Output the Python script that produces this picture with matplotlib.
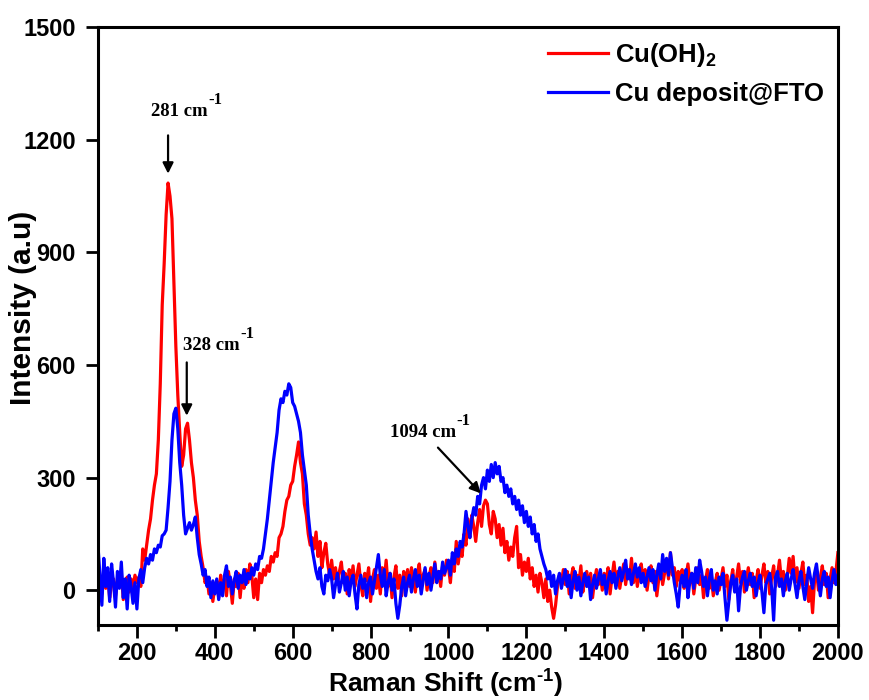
import numpy as np
import matplotlib
matplotlib.use("Agg")
import matplotlib.pyplot as plt
from matplotlib.ticker import MultipleLocator

# Raman shift axis (cm^-1), sampled every 5 cm^-1 from 100 to 2000
shift_start, shift_stop, shift_step = 100, 2000, 5

# Cu(OH)2 spectrum intensities (a.u.)
cu_oh2 = [
    60, 20, -10, 35, 5, 40, -20, 15, 30, -15, 25, 10, 45, -25, 20, 35, -5, 30, 10, 40,
    20, 35, 10, 110, 80, 120, 160, 190, 240, 280, 310, 400, 550, 760, 870, 1000, 1085, 1050, 990, 820,
    650, 520, 420, 330, 360, 430, 445, 400, 340, 300, 240, 200, 130, 90, 60, 20, 35, -10, 20, -30,
    10, 25, -20, 40, 5, 30, -15, 50, 15, -35, 30, 10, 45, -20, 35, 5, 55, 20, 70, 40,
    -20, 30, -25, 45, 20, 55, 40, 65, 50, 90, 75, 100, 90, 140, 150, 170, 210, 240, 250, 280,
    290, 330, 360, 395, 340, 310, 230, 200, 150, 120, 140, 110, 155, 90, 130, 60, 100, 125, 70, 40,
    80, 30, 60, 15, 50, 75, 20, 45, -10, 55, 20, 65, 10, 40, 70, 15, -15, 45, 25, 60,
    -30, 30, 55, 5, 40, -10, 60, 25, 80, 10, 45, -20, 35, 65, 5, 40, -15, 50, 20, 55,
    10, 60, 30, -5, 45, 70, 15, 40, 55, 0, 35, 60, 20, 75, 30, 50, 10, 65, 40, 80,
    60, 20, 85, 50, 130, 70, 110, 90, 150, 120, 190, 140, 200, 170, 130, 180, 215, 170, 225, 240,
    230, 175, 150, 210, 190, 140, 175, 120, 165, 100, 130, 80, 115, 90, 140, 170, 60, 95, 40, 75,
    50, 85, 30, 60, 10, 40, -5, 45, 20, -20, 30, -30, 0, -45, -75, -40, 10, 40, 20, 55,
    15, 50, -10, 35, 60, 5, 40, 20, 65, -5, 30, 50, 10, 45, -20, 25, 55, 15, 40, 0,
    45, 20, 60, -10, 35, 75, 25, 50, 5, 40, 70, 15, 55, 30, 85, 20, 60, 10, 45, 70,
    25, 55, 0, 40, 65, 20, 50, -15, 30, 60, 15, 45, 80, 30, 100, 40, 60, 10, 50, 25,
    55, 5, 35, 70, 20, 45, -10, 30, 60, 15, 40, -20, 25, 55, 5, 35, -15, 20, 45, 0,
    30, 60, 10, 40, -25, 25, 55, 0, 35, 70, 20, 50, -5, 30, 60, 15, 45, -20, 25, 55,
    5, 40, 70, 20, 50, -10, 35, 65, 10, 40, 80, 25, 50, 0, 35, 85, 45, 90, 20, 60,
    5, 45, 75, 15, 40, -30, 10, -60, 25, 55, 0, 35, 65, 15, 45, -20, 30, 60, 20, 50,
    100,
]

# Cu deposit@FTO spectrum intensities (a.u.)
cu_fto = [
    120, 40, -40, 85, 10, 60, -30, 70, 20, -45, 50, 5, 75, -20, 30, -50, 40, 10, -35, 20,
    -50, 30, 55, 20, 60, 85, 70, 95, 80, 110, 100, 120, 115, 145, 150, 160, 220, 290, 400, 470,
    485, 430, 340, 280, 200, 150, 165, 180, 160, 175, 195, 140, 95, 70, 40, 55, 10, 35, -20, 25,
    -10, 30, -25, 20, -15, 40, 65, 10, 35, -10, 25, 50, 5, 40, 20, 55, 15, 45, 30, 60,
    40, 70, 55, 90, 85, 110, 150, 190, 240, 290, 340, 380, 420, 480, 510, 500, 530, 520, 550, 540,
    500, 490, 470, 450, 420, 360, 320, 280, 200, 150, 110, 80, 50, 30, 60, 10, -10, 40, 25, 55,
    30, -20, 15, 45, -5, 20, 50, 0, 35, -15, 25, 40, -10, -50, 15, 40, 5, 30, -20, 20,
    35, -10, 25, 60, 95, 40, 10, 55, -15, 20, 45, 0, 30, -35, -75, -40, 10, 35, -15, 20,
    40, -5, 30, 55, 10, 40, -10, 25, 60, 15, 45, 0, 35, 70, 20, 50, 30, 75, 45, 60,
    80, 40, 100, 70, 110, 90, 130, 115, 150, 210, 170, 140, 190, 220, 200, 250, 230, 280, 300, 270,
    320, 290, 335, 300, 340, 310, 330, 290, 300, 260, 280, 250, 270, 230, 250, 215, 240, 200, 225, 180,
    210, 170, 195, 150, 175, 130, 150, 110, 90, 70, 55, 30, 50, 10, 40, -10, 25, 45, 5, 30,
    55, 10, 40, -20, 25, 50, 0, 35, -15, 20, 45, 10, 35, -25, 15, 40, 5, 30, 55, 15,
    40, -10, 25, 50, 20, 45, 5, 35, 60, 25, 50, 80, 30, 55, 15, 45, 70, 35, 60, 20,
    45, 10, 35, 60, 25, 55, 0, 40, 70, 30, 95, 50, 85, 40, 100, 60, 20, -10, -45, 15,
    40, 10, 55, -20, 25, 45, 5, 60, 20, 80, 50, 10, 35, -15, 30, 55, 0, 25, -10, 35,
    15, 45, -20, -80, -30, 20, 40, -5, 30, -55, 10, 35, 50, 0, 25, 45, 10, 35, -15, 20,
    40, -5, -60, 15, 30, 45, 5, -80, 35, 50, 10, 30, -15, 25, 45, 0, 30, 55, 15, -20,
    25, 50, 10, -25, 20, 60, 30, 5, 45, 70, 25, -15, 30, 50, 10, 35, -20, 25, 55, 15,
    40,
]

x_ticks = [200, 400, 600, 800, 1000, 1200, 1400, 1600, 1800, 2000]
y_ticks = [0, 300, 600, 900, 1200, 1500]

# Peak annotation labels
peak_labels = ["281 cm", "328 cm", "1094 cm"]

shift = np.arange(shift_start, shift_stop + shift_step, shift_step)

plt.rcParams["font.family"] = ["Liberation Sans", "DejaVu Sans"]
plt.rcParams["font.weight"] = "bold"
plt.rcParams["mathtext.fontset"] = "custom"
plt.rcParams["mathtext.rm"] = "Liberation Sans:bold"
plt.rcParams["mathtext.it"] = "Liberation Sans:bold"
plt.rcParams["mathtext.bf"] = "Liberation Sans:bold"

fig = plt.figure(figsize=(8.7, 7.0), dpi=100)
ax = fig.add_axes([0.1126, 0.107, 0.8505, 0.854])

ax.plot(shift, cu_oh2, color="#ff0000", lw=2.3, label="Cu(OH)$_{\\mathdefault{2}}$")
ax.plot(shift, cu_fto, color="#0000ff", lw=2.3, label="Cu deposit@FTO")

ax.set_xlim(100, 2000)
ax.set_ylim(-93, 1500)
ax.set_xticks(x_ticks)
ax.set_yticks(y_ticks)
ax.xaxis.set_minor_locator(MultipleLocator(100))

for side in ["left", "bottom", "right", "top"]:
    ax.spines[side].set_linewidth(2.2)
ax.tick_params(axis="both", which="major", direction="out", length=9, width=2,
               labelsize=17, top=False, right=False)
ax.tick_params(axis="x", which="major", pad=3.5)
ax.tick_params(axis="y", which="major", pad=7)
ax.tick_params(axis="x", which="minor", direction="out", length=4.5, width=2,
               top=False)
for lbl in ax.get_xticklabels() + ax.get_yticklabels():
    lbl.set_fontweight("bold")

ax.set_xlabel("Raman Shift (cm$^{\\text{-}1}$)", fontsize=19, fontweight="bold")
ax.set_ylabel("Intensity (a.u)", fontsize=21.5, fontweight="bold")
ax.xaxis.set_label_coords(0.47, -0.072)
ax.yaxis.set_label_coords(-0.083, 0.53)

leg = ax.legend(loc="upper left", bbox_to_anchor=(0.608, 0.977), frameon=False,
                fontsize=18.5, handlelength=2.33, handletextpad=0.27,
                borderpad=0, borderaxespad=0, labelspacing=0.5)
for t in leg.get_texts():
    t.set_fontweight("bold")

serif = ["Liberation Serif", "DejaVu Serif"]
arrow = dict(arrowstyle="-|>", color="black", lw=1.6, mutation_scale=16,
             shrinkA=0, shrinkB=0)


def peak_label(x, y, text):
    """Bold serif wavenumber label with a raised -1 exponent."""
    base = ax.text(x, y, text, family=serif, fontsize=13.5, fontweight="bold",
                   ha="left", va="center")
    ax.annotate("-1", xy=(1.0, 1.0), xycoords=base, xytext=(0.5, 2),
                textcoords="offset points", family=serif, fontsize=12,
                fontweight="bold", ha="left", va="center")


# 281 cm-1
ax.annotate("", xy=(280, 1110), xytext=(280, 1212), arrowprops=arrow)
peak_label(236, 1276, peak_labels[0])
# 328 cm-1
ax.annotate("", xy=(328, 465), xytext=(328, 607), arrowprops=arrow)
peak_label(318, 652, peak_labels[1])
# 1094 cm-1
ax.annotate("", xy=(1083, 258), xytext=(973, 380), arrowprops=arrow)
peak_label(850, 420, peak_labels[2])

fig.savefig("out.png", dpi=100)
